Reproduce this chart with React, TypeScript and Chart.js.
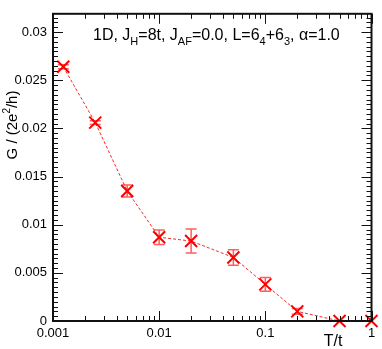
import React, { useEffect, useRef } from "react";
import { Chart, registerables } from "chart.js";

Chart.register(...registerables);

// ---- data ----
const temperatures = [0.00125, 0.0025, 0.005, 0.01, 0.02, 0.05, 0.1, 0.2, 0.5, 1];
const conductance = [0.0264, 0.0206, 0.0135, 0.0087, 0.0083, 0.0066, 0.0038, 0.001, 0.0, 0.0];
const errors = [0.0002, 0.0002, 0.00063, 0.00075, 0.00125, 0.0008, 0.00072, 0.0003, 0, 0];
const xTickLabels = ["0.001", "0.01", "0.1", "1"];
const yTickLabels = ["0", "0.005", "0.01", "0.015", "0.02", "0.025", "0.03"];
const annotationParts: [string, "n" | "sub"][] = [
  ["1D, J", "n"],
  ["H", "sub"],
  ["=8t, J", "n"],
  ["AF", "sub"],
  ["=0.0, L=6", "n"],
  ["4", "sub"],
  ["+6", "n"],
  ["3", "sub"],
  [", \u03b1=1.0", "n"],
];

const FONT = "'Liberation Sans', Arial, Helvetica, sans-serif";
const RED = "#ff0000";

const decoPlugin = {
  id: "deco",
  beforeDatasetsDraw(chart: any) {
    const { ctx } = chart;
    const xs = chart.scales.x;
    const ys = chart.scales.y;
    ctx.save();
    ctx.strokeStyle = "rgba(255,40,40,0.75)";
    ctx.lineWidth = 1.5;
    temperatures.forEach((t, i) => {
      const e = errors[i];
      if (!e) return;
      const px = xs.getPixelForValue(t);
      const y1 = ys.getPixelForValue(conductance[i] + e);
      const y2 = ys.getPixelForValue(conductance[i] - e);
      ctx.beginPath();
      ctx.moveTo(px, y1);
      ctx.lineTo(px, y2);
      ctx.moveTo(px - 5.5, y1);
      ctx.lineTo(px + 5.5, y1);
      ctx.moveTo(px - 5.5, y2);
      ctx.lineTo(px + 5.5, y2);
      ctx.stroke();
    });
    ctx.restore();
  },
  afterDraw(chart: any) {
    const { ctx, chartArea } = chart;
    const { left, right, top, bottom } = chartArea;
    const xs = chart.scales.x;
    const ys = chart.scales.y;
    ctx.save();
    ctx.strokeStyle = "#111";
    ctx.lineWidth = 1;
    ctx.beginPath();
    // x ticks (log decades)
    for (let d = -3; d <= 0; d++) {
      for (let m = 1; m <= 9; m++) {
        const v = m * Math.pow(10, d);
        if (v > 1.0000001) break;
        const px = Math.round(xs.getPixelForValue(v)) + 0.5;
        const len = m === 1 ? 10 : 5;
        ctx.moveTo(px, bottom);
        ctx.lineTo(px, bottom - len);
        ctx.moveTo(px, top);
        ctx.lineTo(px, top + len);
      }
    }
    // y ticks
    for (let k = 0; k * 0.0005 <= ys.max + 1e-9; k++) {
      const v = k * 0.0005;
      const py = Math.round(ys.getPixelForValue(v)) + 0.5;
      const len = k % 10 === 0 ? 10 : 5;
      ctx.moveTo(left, py);
      ctx.lineTo(left + len, py);
      ctx.moveTo(right, py);
      ctx.lineTo(right - len, py);
    }
    ctx.stroke();
    // frame
    ctx.lineWidth = 2;
    ctx.strokeStyle = "#111";
    ctx.strokeRect(left, top, right - left, bottom - top);

    // x title
    ctx.fillStyle = "#000";
    ctx.font = `16px ${FONT}`;
    ctx.textAlign = "center";
    ctx.textBaseline = "alphabetic";
    ctx.fillText("T/t", 333, 346);

    // y title (rotated)
    ctx.save();
    ctx.translate(17, 125);
    ctx.rotate(-Math.PI / 2);
    const p1 = "G / (2e";
    const p2 = "2";
    const p3 = "/h)";
    ctx.font = `15px ${FONT}`;
    const w1 = ctx.measureText(p1).width;
    const w3 = ctx.measureText(p3).width;
    ctx.font = `10px ${FONT}`;
    const w2 = ctx.measureText(p2).width;
    const total = w1 + w2 + w3;
    let x = -total / 2;
    ctx.textAlign = "left";
    ctx.font = `15px ${FONT}`;
    ctx.fillText(p1, x, 0);
    x += w1;
    ctx.font = `10px ${FONT}`;
    ctx.fillText(p2, x, -7);
    x += w2;
    ctx.font = `15px ${FONT}`;
    ctx.fillText(p3, x, 0);
    ctx.restore();

    // annotation
    let ax = 93;
    const ay = 39.5;
    ctx.textAlign = "left";
    annotationParts.forEach(([txt, kind]) => {
      if (kind === "sub") {
        ctx.font = `11px ${FONT}`;
        ctx.fillText(txt, ax, ay + 5.5);
      } else {
        ctx.font = `16px ${FONT}`;
        ctx.fillText(txt, ax, ay);
      }
      ax += ctx.measureText(txt).width;
    });
    ctx.restore();
  },
};

export default function App() {
  const ref = useRef<HTMLCanvasElement | null>(null);

  useEffect(() => {
    document.body.style.margin = "0";
    const canvas = ref.current;
    if (!canvas) return;
    const chart = new Chart(canvas, {
      type: "scatter",
      data: {
        datasets: [
          {
            data: temperatures.map((t, i) => ({ x: t, y: conductance[i] })),
            showLine: true,
            borderColor: "rgba(255,0,0,0.85)",
            borderWidth: 1,
            borderDash: [3, 2],
            pointStyle: "crossRot",
            pointRadius: 8.5,
            pointHoverRadius: 8.5,
            pointBorderWidth: 2,
            pointBorderColor: RED,
            pointBackgroundColor: RED,
            clip: false as any,
          } as any,
        ],
      },
      options: {
        animation: false,
        responsive: false,
        devicePixelRatio: 1,
        layout: { padding: { left: 0, right: 8, top: 2, bottom: 0 } },
        plugins: { legend: { display: false }, tooltip: { enabled: false } },
        events: [],
        scales: {
          x: {
            type: "logarithmic",
            min: 0.001,
            max: 1,
            grid: { display: false, drawTicks: false },
            border: { display: false },
            ticks: {
              autoSkip: false,
              maxRotation: 0,
              padding: 5,
              color: "#000",
              font: { family: FONT, size: 13 },
              callback: (v: any) => {
                const l = Math.log10(Number(v));
                const r = Math.round(l);
                if (Math.abs(l - r) < 1e-6) return xTickLabels[r + 3];
                return "";
              },
            },
            afterFit: (s: any) => {
              s.height = 28;
            },
          },
          y: {
            type: "linear",
            min: 0,
            max: 0.0319,
            grid: { display: false, drawTicks: false },
            border: { display: false },
            ticks: {
              stepSize: 0.005,
              includeBounds: false,
              padding: 6,
              color: "#000",
              font: { family: FONT, size: 13 },
              callback: (v: any) => {
                const k = Number(v) / 0.005;
                const r = Math.round(k);
                if (Math.abs(k - r) < 1e-6 && yTickLabels[r] !== undefined) return yTickLabels[r];
                return "";
              },
            },
            afterFit: (s: any) => {
              s.width = 53;
            },
          },
        },
      } as any,
      plugins: [decoPlugin],
    });
    return () => chart.destroy();
  }, []);

  return <canvas ref={ref} width={382} height={349} style={{ display: "block" }} />;
}
